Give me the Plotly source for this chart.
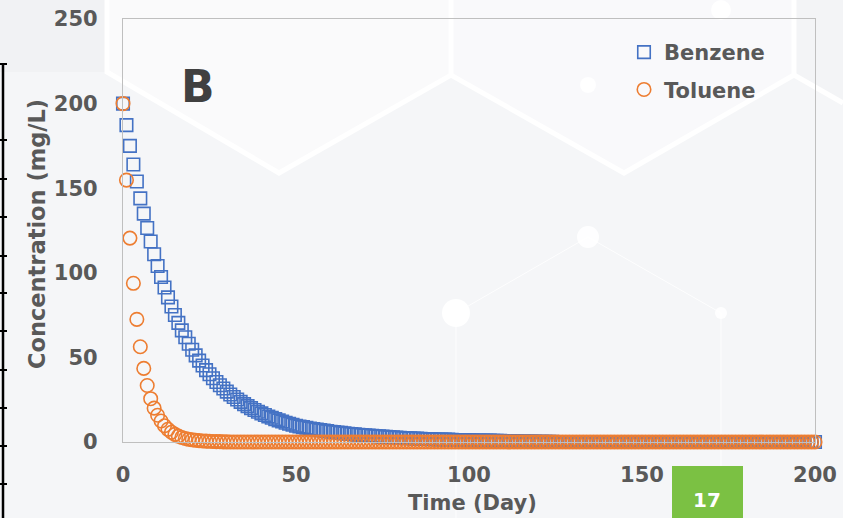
import plotly.graph_objects as go

# ---------------- data ----------------
days = list(range(0, 201))

benzene = [
    200, 187.3, 175, 164, 154, 144, 135, 126.5, 118.5, 111,
    104, 97.5, 91.3, 85.5, 80.1, 75.1, 70.4, 66, 61.9, 58.1,
    54.5, 51.2, 48.1, 45.2, 42.5, 40, 37.7, 35.5, 33.5, 31.6,
    29.8, 28.1, 26.6, 25.1, 23.7, 22.4, 21.2, 20, 18.9, 17.9,
    16.9, 16, 15.1, 14.3, 13.5, 12.8, 12.1, 11.4, 10.8, 10.2,
    9.6, 9.2, 8.8, 8.4, 8.0, 7.7, 7.3, 7.0, 6.7, 6.4,
    6.1, 5.9, 5.6, 5.4, 5.1, 4.9, 4.7, 4.5, 4.3, 4.1,
    3.9, 3.8, 3.6, 3.4, 3.3, 3.2, 3.0, 2.9, 2.8, 2.6,
    2.5, 2.4, 2.3, 2.2, 2.1, 2.0, 1.9, 1.8, 1.8, 1.7,
    1.6, 1.5, 1.5, 1.4, 1.4, 1.3, 1.2, 1.2, 1.1, 1.1,
    1.0, 1.0, 0.9, 0.9, 0.8, 0.8, 0.8, 0.7, 0.7, 0.7,
    0.6, 0.5, 0.5, 0.4, 0.4, 0.3, 0.3, 0.2, 0.2, 0.2,
    0.1, 0.1, 0.1, 0.1, 0.1, 0.0, 0.0, 0.0, 0.0, 0.0,
    0.0, 0.0, 0.0, 0.0, 0.0, 0.0, 0.0, 0.0, 0.0, 0.0,
    0.0, 0.0, 0.0, 0.0, 0.0, 0.0, 0.0, 0.0, 0.0, 0.0,
    0.0, 0.0, 0.0, 0.0, 0.0, 0.0, 0.0, 0.0, 0.0, 0.0,
    0.0, 0.0, 0.0, 0.0, 0.0, 0.0, 0.0, 0.0, 0.0, 0.0,
    0.0, 0.0, 0.0, 0.0, 0.0, 0.0, 0.0, 0.0, 0.0, 0.0,
    0.0, 0.0, 0.0, 0.0, 0.0, 0.0, 0.0, 0.0, 0.0, 0.0,
    0.0, 0.0, 0.0, 0.0, 0.0, 0.0, 0.0, 0.0, 0.0, 0.0,
    0.0,
]

toluene = [
    200, 154.8, 120.5, 93.8, 72.5, 56.3, 43.5, 33.4, 25.6, 20,
    15.8, 12.4, 9.6, 7.5, 5.8, 4.5, 3.5, 2.7, 2.1, 1.6,
    1.3, 1.0, 0.8, 0.6, 0.5, 0.4, 0.3, 0.2, 0.2, 0.1,
    0.1, 0, 0, 0, 0, 0, 0, 0, 0, 0,
    0, 0, 0, 0, 0, 0, 0, 0, 0, 0,
    0, 0, 0, 0, 0, 0, 0, 0, 0, 0,
    0, 0, 0, 0, 0, 0, 0, 0, 0, 0,
    0, 0, 0, 0, 0, 0, 0, 0, 0, 0,
    0, 0, 0, 0, 0, 0, 0, 0, 0, 0,
    0, 0, 0, 0, 0, 0, 0, 0, 0, 0,
    0, 0, 0, 0, 0, 0, 0, 0, 0, 0,
    0, 0, 0, 0, 0, 0, 0, 0, 0, 0,
    0, 0, 0, 0, 0, 0, 0, 0, 0, 0,
    0, 0, 0, 0, 0, 0, 0, 0, 0, 0,
    0, 0, 0, 0, 0, 0, 0, 0, 0, 0,
    0, 0, 0, 0, 0, 0, 0, 0, 0, 0,
    0, 0, 0, 0, 0, 0, 0, 0, 0, 0,
    0, 0, 0, 0, 0, 0, 0, 0, 0, 0,
    0, 0, 0, 0, 0, 0, 0, 0, 0, 0,
    0, 0, 0, 0, 0, 0, 0, 0, 0, 0,
    0,
]

x_ticks = [0, 50, 100, 150, 200]
y_ticks = [0, 50, 100, 150, 200, 250]

# ---------------- layout helpers ----------------
W, H = 843, 518
L, R, T, B = 123, 28, 19, 76
PW, PH = W - L - R, H - T - B


def px(x):
    return (x - L) / PW


def py(y):
    return (H - B - y) / PH


FONT = "DejaVu Sans"
GRAY = "#595959"
BLUE = "#4472c4"
ORANGE = "#ed7d31"

fig = go.Figure()

fig.add_trace(go.Scatter(
    x=days, y=benzene, name="Benzene", mode="markers",
    legendgroup="b", cliponaxis=False,
    marker=dict(symbol="square-open", size=12.5, color=BLUE,
                line=dict(width=1.6, color=BLUE)),
))
fig.add_trace(go.Scatter(
    x=days, y=toluene, name="Toluene", mode="markers",
    legendgroup="t", cliponaxis=False,
    marker=dict(symbol="circle-open", size=13.5, color=ORANGE,
                line=dict(width=1.6, color=ORANGE)),
))

shapes = []


def poly(points, fill):
    d = "M " + " L ".join(f"{px(a):.5f},{py(b):.5f}" for a, b in points) + " Z"
    shapes.append(dict(type="path", path=d, xref="paper", yref="paper",
                       fillcolor=fill, line=dict(width=0), layer="below"))


def pline(points, color, width):
    d = "M " + " L ".join(f"{px(a):.5f},{py(b):.5f}" for a, b in points)
    shapes.append(dict(type="path", path=d, xref="paper", yref="paper",
                       line=dict(color=color, width=width), layer="below"))


def dot(cx, cy, r, color):
    shapes.append(dict(type="circle", xref="paper", yref="paper",
                       x0=px(cx - r), x1=px(cx + r), y0=py(cy + r), y1=py(cy - r),
                       fillcolor=color, line=dict(width=0), layer="below"))


# background panels
poly([(0, 0), (843, 0), (843, 518), (0, 518)], "#f5f6f8")
poly([(0, 0), (107, 0), (107, 72), (0, 72)], "#f1f2f4")
poly([(107, 0), (107, 72), (279, 173), (451, 75), (451, 0)], "#fafafb")
poly([(451, 0), (451, 75), (624, 173), (794, 75), (794, 0)], "#f9f9fb")
poly([(794, 0), (794, 75), (843, 103), (843, 0)], "#f3f4f6")
# hexagon edges
pline([(107, 0), (107, 72), (279, 173), (451, 75), (624, 173), (794, 75), (843, 103)],
      "rgba(255,255,255,0.95)", 5)
pline([(451, 0), (451, 75)], "rgba(255,255,255,0.95)", 5)
pline([(794, 0), (794, 75)], "rgba(255,255,255,0.95)", 5)
# thin network lines + dots
pline([(456, 518), (456, 313), (588, 237), (721, 313), (721, 518)],
      "rgba(255,255,255,0.8)", 1)
dot(721, 10, 10, "rgba(255,255,255,0.9)")
dot(588, 85, 8, "rgba(255,255,255,0.9)")
dot(588, 237, 11, "rgba(255,255,255,0.9)")
dot(456, 313, 14, "rgba(255,255,255,0.95)")
dot(721, 313, 6, "rgba(255,255,255,0.9)")

# cut-off neighbour axis on the left edge
shapes.append(dict(type="line", xref="paper", yref="paper",
                   x0=px(3), x1=px(3), y0=py(63), y1=py(518),
                   line=dict(color="#000000", width=2.5)))
for ty in [64, 140, 179, 217, 256, 293, 331, 370, 408, 446, 484]:
    shapes.append(dict(type="line", xref="paper", yref="paper",
                       x0=px(0), x1=px(7), y0=py(ty), y1=py(ty),
                       line=dict(color="#000000", width=2)))

# green page-number box
shapes.append(dict(type="rect", xref="paper", yref="paper",
                   x0=px(672), x1=px(743), y0=py(520), y1=py(466),
                   fillcolor="#7bc143", line=dict(width=0), layer="above"))

annotations = [
    dict(text="<b>B</b>", x=px(198), y=py(86), xref="paper", yref="paper",
         showarrow=False, xanchor="center", yanchor="middle",
         font=dict(family=FONT, size=44, color="#404040")),
    dict(text="<b>Concentration (mg/L)</b>", x=px(37), y=py(234),
         xref="paper", yref="paper", textangle=-90, showarrow=False,
         xanchor="center", yanchor="middle",
         font=dict(family=FONT, size=22.5, color=GRAY)),
    dict(text="<b>Time (Day)</b>", x=px(472), y=py(503),
         xref="paper", yref="paper", showarrow=False,
         xanchor="center", yanchor="middle",
         font=dict(family=FONT, size=21, color=GRAY)),
    dict(text="<b>17</b>", x=px(707), y=py(500),
         xref="paper", yref="paper", showarrow=False,
         xanchor="center", yanchor="middle",
         font=dict(family=FONT, size=20, color="#ffffff")),
]

axis_common = dict(
    showline=True, linecolor="#bfbfbf", linewidth=1.3, mirror=True,
    showgrid=False, zeroline=False, ticks="", automargin=False,
    tickfont=dict(family=FONT, size=21, color=GRAY, weight="bold"),
)

fig.update_layout(
    template="none",
    width=W, height=H,
    margin=dict(l=L, r=R, t=T, b=B, pad=0),
    paper_bgcolor="#f5f6f8",
    plot_bgcolor="rgba(0,0,0,0)",
    xaxis=dict(range=[0, 200], tickmode="array", tickvals=x_ticks,
               ticklabelstandoff=14, **axis_common),
    yaxis=dict(range=[0, 250], tickmode="array", tickvals=y_ticks,
               ticklabelstandoff=20, **axis_common),
    showlegend=True,
    legend=dict(x=px(624), y=py(32), xanchor="left", yanchor="top",
                bgcolor="rgba(0,0,0,0)", borderwidth=0,
                tracegroupgap=7, itemwidth=30,
                font=dict(family=FONT, size=21, color=GRAY, weight="bold")),
    shapes=shapes,
    annotations=annotations,
)

fig.write_html("out.html")
